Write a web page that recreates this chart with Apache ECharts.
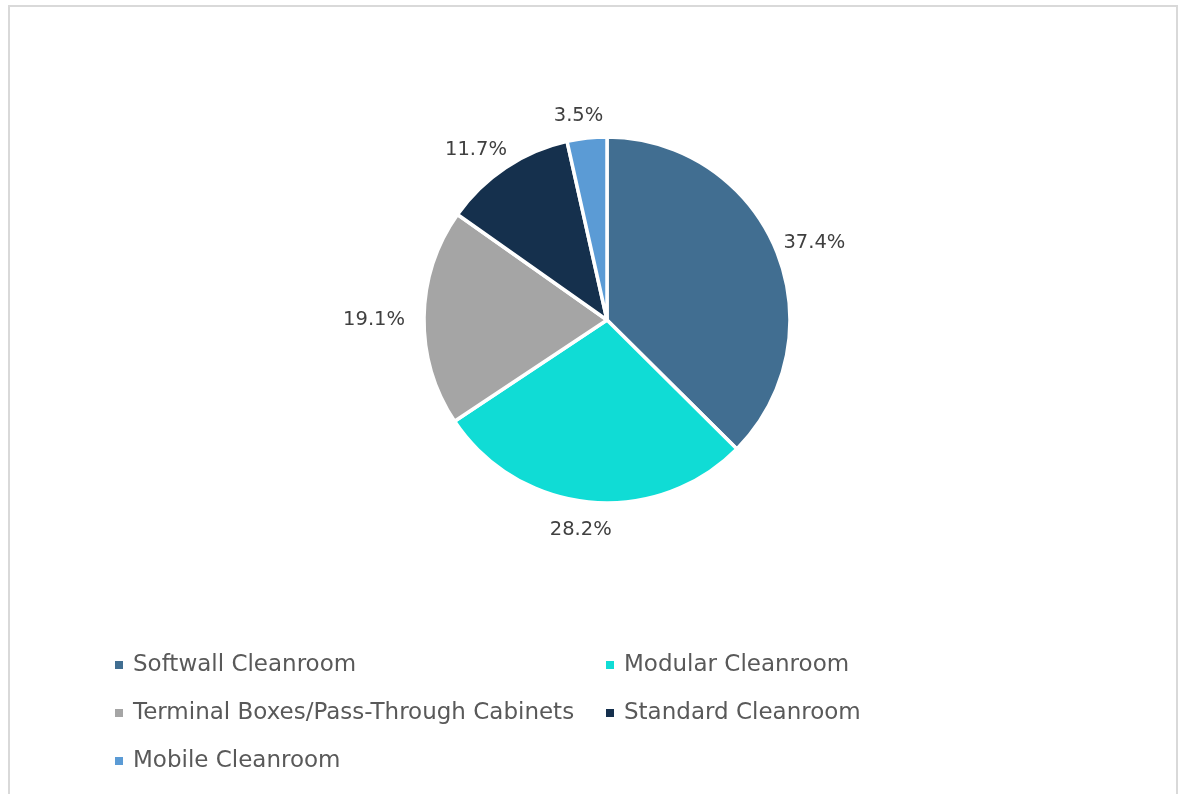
<!DOCTYPE html>
<html>
<head>
<meta charset="utf-8">
<script src="https://cdn.jsdelivr.net/npm/echarts@6/dist/echarts.min.js"></script>
<style>
  html, body { margin: 0; padding: 0; background: #fff; }
  #main { width: 1183px; height: 794px; }
  #frame {
    position: absolute; left: 8px; top: 5px; width: 1166px; height: 800px;
    border: 2px solid #d9d9d9; pointer-events: none;
  }
</style>
</head>
<body>
<div id="main"></div>
<div id="frame"></div>
<script>
// segment names, shares (%) and colours
const categories = ['Softwall Cleanroom', 'Modular Cleanroom', 'Terminal Boxes/Pass-Through Cabinets', 'Standard Cleanroom', 'Mobile Cleanroom'];
const shares = [37.4, 28.2, 19.1, 11.7, 3.5];
const colors = ['#416e91', '#10dcd5', '#a5a5a5', '#15304d', '#5b9bd5'];

const cx = 607, cy = 320, R = 183;
const total = shares.reduce((a, b) => a + b, 0);

// mid angle of each slice (deg, counter-clockwise from 3 o'clock), pie starts at 12 o'clock and goes clockwise
function midAngle(i) {
  let before = 0;
  for (let k = 0; k < i; k++) before += shares[k];
  return 90 - (before + shares[i] / 2) / total * 360;
}

const chart = echarts.init(document.getElementById('main'));

let option = {
  color: colors,
  animation: false,
  legend: {
    left: 108,
    top: 648,
    width: 980,
    icon: 'rect',
    itemWidth: 10,
    itemHeight: 10,
    itemGap: 24,
    textStyle: {
      fontFamily: 'DejaVu Sans',
      fontSize: 23,
      color: '#595959',
      lineHeight: 24,
      width: 447,
      padding: [0, 0, 0, 4]
    },
    data: categories
  },
  series: [{
    type: 'pie',
    center: [cx, cy],
    radius: R,
    startAngle: 90,
    itemStyle: {
      borderColor: '#fff',
      borderWidth: 3.5
    },
    label: {
      position: 'outside',
      formatter: p => p.value.toFixed(1) + '%',
      fontFamily: 'DejaVu Sans',
      fontSize: 19.5,
      color: '#404040'
    },
    labelLine: {
      show: false
    },
    // put each label just outside the slice edge, like "outside end"
    labelLayout: function (params) {
      const a = midAngle(params.dataIndex) * Math.PI / 180;
      const w = params.labelRect.width / 2;
      const h = params.labelRect.height / 2;
      const gap = 15;
      return {
        x: cx + (R + gap + w) * Math.cos(a) - 4,
        y: cy - (R + gap + h) * Math.sin(a) + 3,
        align: 'center',
        verticalAlign: 'middle'
      };
    },
    data: categories.map((name, i) => ({ name: name, value: shares[i] }))
  }]
};
chart.setOption(option);
</script>
</body>
</html>
